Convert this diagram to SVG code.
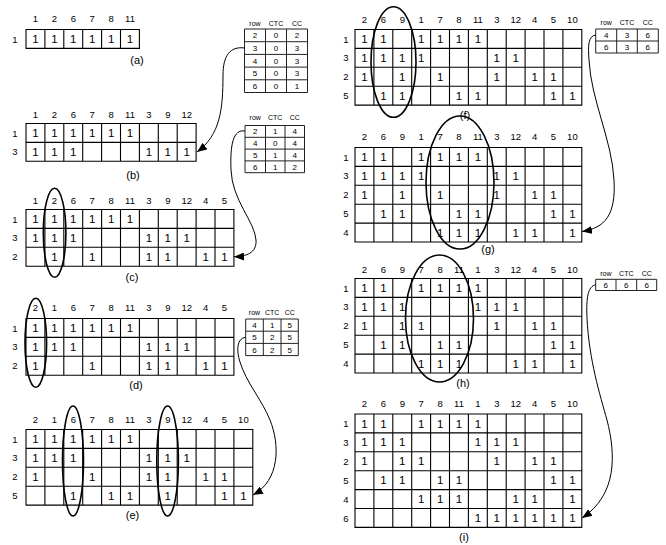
<svg xmlns="http://www.w3.org/2000/svg" width="666" height="545" viewBox="0 0 666 545">
<style>
text{font-family:"Liberation Sans",Arial,sans-serif;fill:#000;text-anchor:middle}
.g{fill:none;stroke:#000;stroke-width:1.1}
.tg{fill:none;stroke:#222;stroke-width:1}
.v{font-size:11.5px}
.h{font-size:9.5px}
.r{font-size:9.5px}
.lb{font-size:11px}
.th{font-size:7px}
.td{font-size:8px}
.el{fill:none;stroke:#000;stroke-width:1.6}
.cn{fill:none;stroke:#000;stroke-width:1}
</style>
<defs>
<marker id="ah" markerUnits="userSpaceOnUse" markerWidth="11" markerHeight="8" refX="10" refY="4" orient="auto">
<path d="M0,0 L10,4 L0,8 Z" fill="#000"/>
</marker>
</defs>

<g id="matrix-a">
<path class="g" d="M26 29.5H139.4V48.4H26Z M44.9 29.5V48.4 M63.8 29.5V48.4 M82.7 29.5V48.4 M101.6 29.5V48.4 M120.5 29.5V48.4"/>
<text class="h" x="35.5" y="22.4">1</text><text class="h" x="54.4" y="22.4">2</text><text class="h" x="73.3" y="22.4">6</text><text class="h" x="92.2" y="22.4">7</text><text class="h" x="111.1" y="22.4">8</text><text class="h" x="130" y="22.4">11</text>
<text class="r" x="15" y="42.5">1</text>
<text class="v" x="35.5" y="43">1</text><text class="v" x="54.4" y="43">1</text><text class="v" x="73.3" y="43">1</text><text class="v" x="92.2" y="43">1</text><text class="v" x="111.1" y="43">1</text><text class="v" x="130" y="43">1</text>
<text class="lb" x="137" y="64">(a)</text>
</g>

<g id="matrix-b">
<path class="g" d="M26 123.5H196.1V161.3H26Z M26 142.4H196.1 M44.9 123.5V161.3 M63.8 123.5V161.3 M82.7 123.5V161.3 M101.6 123.5V161.3 M120.5 123.5V161.3 M139.4 123.5V161.3 M158.3 123.5V161.3 M177.2 123.5V161.3"/>
<text class="h" x="35.5" y="118.4">1</text><text class="h" x="54.4" y="118.4">2</text><text class="h" x="73.3" y="118.4">6</text><text class="h" x="92.2" y="118.4">7</text><text class="h" x="111.1" y="118.4">8</text><text class="h" x="130" y="118.4">11</text><text class="h" x="148.9" y="118.4">3</text><text class="h" x="167.8" y="118.4">9</text><text class="h" x="186.7" y="118.4">12</text>
<text class="r" x="15" y="136.5">1</text><text class="r" x="15" y="155.4">3</text>
<text class="v" x="35.5" y="137">1</text><text class="v" x="54.4" y="137">1</text><text class="v" x="73.3" y="137">1</text><text class="v" x="92.2" y="137">1</text><text class="v" x="111.1" y="137">1</text><text class="v" x="130" y="137">1</text>
<text class="v" x="35.5" y="155.9">1</text><text class="v" x="54.4" y="155.9">1</text><text class="v" x="73.3" y="155.9">1</text><text class="v" x="148.9" y="155.9">1</text><text class="v" x="167.8" y="155.9">1</text><text class="v" x="186.7" y="155.9">1</text>
<text class="lb" x="133" y="179">(b)</text>
</g>

<g id="matrix-c">
<path class="g" d="M26 209.5H233.9V266.2H26Z M26 228.4H233.9 M26 247.3H233.9 M44.9 209.5V266.2 M63.8 209.5V266.2 M82.7 209.5V266.2 M101.6 209.5V266.2 M120.5 209.5V266.2 M139.4 209.5V266.2 M158.3 209.5V266.2 M177.2 209.5V266.2 M196.1 209.5V266.2 M215 209.5V266.2"/>
<text class="h" x="35.5" y="204">1</text><text class="h" x="54.4" y="204">2</text><text class="h" x="73.3" y="204">6</text><text class="h" x="92.2" y="204">7</text><text class="h" x="111.1" y="204">8</text><text class="h" x="130" y="204">11</text><text class="h" x="148.9" y="204">3</text><text class="h" x="167.8" y="204">9</text><text class="h" x="186.7" y="204">12</text><text class="h" x="205.6" y="204">4</text><text class="h" x="224.5" y="204">5</text>
<text class="r" x="15" y="222.5">1</text><text class="r" x="15" y="241.4">3</text><text class="r" x="15" y="260.3">2</text>
<text class="v" x="35.5" y="223">1</text><text class="v" x="54.4" y="223">1</text><text class="v" x="73.3" y="223">1</text><text class="v" x="92.2" y="223">1</text><text class="v" x="111.1" y="223">1</text><text class="v" x="130" y="223">1</text>
<text class="v" x="35.5" y="241.9">1</text><text class="v" x="54.4" y="241.9">1</text><text class="v" x="73.3" y="241.9">1</text><text class="v" x="148.9" y="241.9">1</text><text class="v" x="167.8" y="241.9">1</text><text class="v" x="186.7" y="241.9">1</text>
<text class="v" x="54.4" y="260.8">1</text><text class="v" x="92.2" y="260.8">1</text><text class="v" x="148.9" y="260.8">1</text><text class="v" x="167.8" y="260.8">1</text><text class="v" x="205.6" y="260.8">1</text><text class="v" x="224.5" y="260.8">1</text>
<ellipse class="el" cx="54.6" cy="232.8" rx="11.3" ry="44.5"/>
<text class="lb" x="132" y="281">(c)</text>
</g>

<g id="matrix-d">
<path class="g" d="M26 318.5H233.9V375.2H26Z M26 337.4H233.9 M26 356.3H233.9 M44.9 318.5V375.2 M63.8 318.5V375.2 M82.7 318.5V375.2 M101.6 318.5V375.2 M120.5 318.5V375.2 M139.4 318.5V375.2 M158.3 318.5V375.2 M177.2 318.5V375.2 M196.1 318.5V375.2 M215 318.5V375.2"/>
<text class="h" x="35.5" y="311.4">2</text><text class="h" x="54.4" y="311.4">1</text><text class="h" x="73.3" y="311.4">6</text><text class="h" x="92.2" y="311.4">7</text><text class="h" x="111.1" y="311.4">8</text><text class="h" x="130" y="311.4">11</text><text class="h" x="148.9" y="311.4">3</text><text class="h" x="167.8" y="311.4">9</text><text class="h" x="186.7" y="311.4">12</text><text class="h" x="205.6" y="311.4">4</text><text class="h" x="224.5" y="311.4">5</text>
<text class="r" x="15" y="331.5">1</text><text class="r" x="15" y="350.4">3</text><text class="r" x="15" y="369.3">2</text>
<text class="v" x="35.5" y="332">1</text><text class="v" x="54.4" y="332">1</text><text class="v" x="73.3" y="332">1</text><text class="v" x="92.2" y="332">1</text><text class="v" x="111.1" y="332">1</text><text class="v" x="130" y="332">1</text>
<text class="v" x="35.5" y="350.9">1</text><text class="v" x="54.4" y="350.9">1</text><text class="v" x="73.3" y="350.9">1</text><text class="v" x="148.9" y="350.9">1</text><text class="v" x="167.8" y="350.9">1</text><text class="v" x="186.7" y="350.9">1</text>
<text class="v" x="35.5" y="369.8">1</text><text class="v" x="92.2" y="369.8">1</text><text class="v" x="148.9" y="369.8">1</text><text class="v" x="167.8" y="369.8">1</text><text class="v" x="205.6" y="369.8">1</text><text class="v" x="224.5" y="369.8">1</text>
<ellipse class="el" cx="35.8" cy="342.8" rx="10.8" ry="44.5"/>
<text class="lb" x="136" y="389">(d)</text>
</g>

<g id="matrix-e">
<path class="g" d="M26 429.5H252.8V505.1H26Z M26 448.4H252.8 M26 467.3H252.8 M26 486.2H252.8 M44.9 429.5V505.1 M63.8 429.5V505.1 M82.7 429.5V505.1 M101.6 429.5V505.1 M120.5 429.5V505.1 M139.4 429.5V505.1 M158.3 429.5V505.1 M177.2 429.5V505.1 M196.1 429.5V505.1 M215 429.5V505.1 M233.9 429.5V505.1"/>
<text class="h" x="35.5" y="423.4">2</text><text class="h" x="54.4" y="423.4">1</text><text class="h" x="73.3" y="423.4">6</text><text class="h" x="92.2" y="423.4">7</text><text class="h" x="111.1" y="423.4">8</text><text class="h" x="130" y="423.4">11</text><text class="h" x="148.9" y="423.4">3</text><text class="h" x="167.8" y="423.4">9</text><text class="h" x="186.7" y="423.4">12</text><text class="h" x="205.6" y="423.4">4</text><text class="h" x="224.5" y="423.4">5</text><text class="h" x="243.4" y="423.4">10</text>
<text class="r" x="15" y="442.5">1</text><text class="r" x="15" y="461.4">3</text><text class="r" x="15" y="480.3">2</text><text class="r" x="15" y="499.2">5</text>
<text class="v" x="35.5" y="443">1</text><text class="v" x="54.4" y="443">1</text><text class="v" x="73.3" y="443">1</text><text class="v" x="92.2" y="443">1</text><text class="v" x="111.1" y="443">1</text><text class="v" x="130" y="443">1</text>
<text class="v" x="35.5" y="461.9">1</text><text class="v" x="54.4" y="461.9">1</text><text class="v" x="73.3" y="461.9">1</text><text class="v" x="148.9" y="461.9">1</text><text class="v" x="167.8" y="461.9">1</text><text class="v" x="186.7" y="461.9">1</text>
<text class="v" x="35.5" y="480.8">1</text><text class="v" x="92.2" y="480.8">1</text><text class="v" x="148.9" y="480.8">1</text><text class="v" x="167.8" y="480.8">1</text><text class="v" x="205.6" y="480.8">1</text><text class="v" x="224.5" y="480.8">1</text>
<text class="v" x="73.3" y="499.7">1</text><text class="v" x="111.1" y="499.7">1</text><text class="v" x="130" y="499.7">1</text><text class="v" x="167.8" y="499.7">1</text><text class="v" x="224.5" y="499.7">1</text><text class="v" x="243.4" y="499.7">1</text>
<ellipse class="el" cx="73" cy="461" rx="10.5" ry="55"/>
<ellipse class="el" cx="167.6" cy="461" rx="10.8" ry="55"/>
<text class="lb" x="132.5" y="519">(e)</text>
</g>

<g id="matrix-f">
<path class="g" d="M355 29.5H581.8V105.1H355Z M355 48.4H581.8 M355 67.3H581.8 M355 86.2H581.8 M373.9 29.5V105.1 M392.8 29.5V105.1 M411.7 29.5V105.1 M430.6 29.5V105.1 M449.5 29.5V105.1 M468.4 29.5V105.1 M487.3 29.5V105.1 M506.2 29.5V105.1 M525.1 29.5V105.1 M544 29.5V105.1 M562.9 29.5V105.1"/>
<text class="h" x="364.5" y="23.4">2</text><text class="h" x="383.4" y="23.4">6</text><text class="h" x="402.3" y="23.4">9</text><text class="h" x="421.2" y="23.4">1</text><text class="h" x="440.1" y="23.4">7</text><text class="h" x="459" y="23.4">8</text><text class="h" x="477.9" y="23.4">11</text><text class="h" x="496.8" y="23.4">3</text><text class="h" x="515.7" y="23.4">12</text><text class="h" x="534.6" y="23.4">4</text><text class="h" x="553.5" y="23.4">5</text><text class="h" x="572.4" y="23.4">10</text>
<text class="r" x="346" y="42.5">1</text><text class="r" x="346" y="61.4">3</text><text class="r" x="346" y="80.3">2</text><text class="r" x="346" y="99.2">5</text>
<text class="v" x="364.5" y="43">1</text><text class="v" x="383.4" y="43">1</text><text class="v" x="421.2" y="43">1</text><text class="v" x="440.1" y="43">1</text><text class="v" x="459" y="43">1</text><text class="v" x="477.9" y="43">1</text>
<text class="v" x="364.5" y="61.9">1</text><text class="v" x="383.4" y="61.9">1</text><text class="v" x="402.3" y="61.9">1</text><text class="v" x="421.2" y="61.9">1</text><text class="v" x="496.8" y="61.9">1</text><text class="v" x="515.7" y="61.9">1</text>
<text class="v" x="364.5" y="80.8">1</text><text class="v" x="402.3" y="80.8">1</text><text class="v" x="440.1" y="80.8">1</text><text class="v" x="496.8" y="80.8">1</text><text class="v" x="534.6" y="80.8">1</text><text class="v" x="553.5" y="80.8">1</text>
<text class="v" x="383.4" y="99.7">1</text><text class="v" x="402.3" y="99.7">1</text><text class="v" x="459" y="99.7">1</text><text class="v" x="477.9" y="99.7">1</text><text class="v" x="553.5" y="99.7">1</text><text class="v" x="572.4" y="99.7">1</text>
<ellipse class="el" cx="393.5" cy="62" rx="22.5" ry="55.3"/>
<text class="lb" x="465" y="119">(f)</text>
</g>

<g id="matrix-g">
<path class="g" d="M355 147.5H581.8V242H355Z M355 166.4H581.8 M355 185.3H581.8 M355 204.2H581.8 M355 223.1H581.8 M373.9 147.5V242 M392.8 147.5V242 M411.7 147.5V242 M430.6 147.5V242 M449.5 147.5V242 M468.4 147.5V242 M487.3 147.5V242 M506.2 147.5V242 M525.1 147.5V242 M544 147.5V242 M562.9 147.5V242"/>
<text class="h" x="364.5" y="140">2</text><text class="h" x="383.4" y="140">6</text><text class="h" x="402.3" y="140">9</text><text class="h" x="421.2" y="140">1</text><text class="h" x="440.1" y="140">7</text><text class="h" x="459" y="140">8</text><text class="h" x="477.9" y="140">11</text><text class="h" x="496.8" y="140">3</text><text class="h" x="515.7" y="140">12</text><text class="h" x="534.6" y="140">4</text><text class="h" x="553.5" y="140">5</text><text class="h" x="572.4" y="140">10</text>
<text class="r" x="346" y="160.5">1</text><text class="r" x="346" y="179.4">3</text><text class="r" x="346" y="198.3">2</text><text class="r" x="346" y="217.2">5</text><text class="r" x="346" y="236.1">4</text>
<text class="v" x="364.5" y="161">1</text><text class="v" x="383.4" y="161">1</text><text class="v" x="421.2" y="161">1</text><text class="v" x="440.1" y="161">1</text><text class="v" x="459" y="161">1</text><text class="v" x="477.9" y="161">1</text>
<text class="v" x="364.5" y="179.9">1</text><text class="v" x="383.4" y="179.9">1</text><text class="v" x="402.3" y="179.9">1</text><text class="v" x="421.2" y="179.9">1</text><text class="v" x="496.8" y="179.9">1</text><text class="v" x="515.7" y="179.9">1</text>
<text class="v" x="364.5" y="198.8">1</text><text class="v" x="402.3" y="198.8">1</text><text class="v" x="440.1" y="198.8">1</text><text class="v" x="496.8" y="198.8">1</text><text class="v" x="534.6" y="198.8">1</text><text class="v" x="553.5" y="198.8">1</text>
<text class="v" x="383.4" y="217.7">1</text><text class="v" x="402.3" y="217.7">1</text><text class="v" x="459" y="217.7">1</text><text class="v" x="477.9" y="217.7">1</text><text class="v" x="553.5" y="217.7">1</text><text class="v" x="572.4" y="217.7">1</text>
<text class="v" x="440.1" y="236.6">1</text><text class="v" x="459" y="236.6">1</text><text class="v" x="477.9" y="236.6">1</text><text class="v" x="515.7" y="236.6">1</text><text class="v" x="534.6" y="236.6">1</text><text class="v" x="572.4" y="236.6">1</text>
<ellipse class="el" cx="460" cy="182.5" rx="34" ry="66.5"/>
<text class="lb" x="488" y="253">(g)</text>
</g>

<g id="matrix-h">
<path class="g" d="M355 278.5H581.8V373H355Z M355 297.4H581.8 M355 316.3H581.8 M355 335.2H581.8 M355 354.1H581.8 M373.9 278.5V373 M392.8 278.5V373 M411.7 278.5V373 M430.6 278.5V373 M449.5 278.5V373 M468.4 278.5V373 M487.3 278.5V373 M506.2 278.5V373 M525.1 278.5V373 M544 278.5V373 M562.9 278.5V373"/>
<text class="h" x="364.5" y="272.7">2</text><text class="h" x="383.4" y="272.7">6</text><text class="h" x="402.3" y="272.7">9</text><text class="h" x="421.2" y="272.7">7</text><text class="h" x="440.1" y="272.7">8</text><text class="h" x="459" y="272.7">11</text><text class="h" x="477.9" y="272.7">1</text><text class="h" x="496.8" y="272.7">3</text><text class="h" x="515.7" y="272.7">12</text><text class="h" x="534.6" y="272.7">4</text><text class="h" x="553.5" y="272.7">5</text><text class="h" x="572.4" y="272.7">10</text>
<text class="r" x="346" y="291.5">1</text><text class="r" x="346" y="310.4">3</text><text class="r" x="346" y="329.3">2</text><text class="r" x="346" y="348.2">5</text><text class="r" x="346" y="367.1">4</text>
<text class="v" x="364.5" y="292">1</text><text class="v" x="383.4" y="292">1</text><text class="v" x="421.2" y="292">1</text><text class="v" x="440.1" y="292">1</text><text class="v" x="459" y="292">1</text><text class="v" x="477.9" y="292">1</text>
<text class="v" x="364.5" y="310.9">1</text><text class="v" x="383.4" y="310.9">1</text><text class="v" x="402.3" y="310.9">1</text><text class="v" x="477.9" y="310.9">1</text><text class="v" x="496.8" y="310.9">1</text><text class="v" x="515.7" y="310.9">1</text>
<text class="v" x="364.5" y="329.8">1</text><text class="v" x="402.3" y="329.8">1</text><text class="v" x="421.2" y="329.8">1</text><text class="v" x="496.8" y="329.8">1</text><text class="v" x="534.6" y="329.8">1</text><text class="v" x="553.5" y="329.8">1</text>
<text class="v" x="383.4" y="348.7">1</text><text class="v" x="402.3" y="348.7">1</text><text class="v" x="440.1" y="348.7">1</text><text class="v" x="459" y="348.7">1</text><text class="v" x="553.5" y="348.7">1</text><text class="v" x="572.4" y="348.7">1</text>
<text class="v" x="421.2" y="367.6">1</text><text class="v" x="440.1" y="367.6">1</text><text class="v" x="459" y="367.6">1</text><text class="v" x="515.7" y="367.6">1</text><text class="v" x="534.6" y="367.6">1</text><text class="v" x="572.4" y="367.6">1</text>
<ellipse class="el" cx="439.5" cy="318.5" rx="34" ry="63.5"/>
<text class="lb" x="463" y="387">(h)</text>
</g>

<g id="matrix-i">
<path class="g" d="M355 414H581.8V527.4H355Z M355 432.9H581.8 M355 451.8H581.8 M355 470.7H581.8 M355 489.6H581.8 M355 508.5H581.8 M373.9 414V527.4 M392.8 414V527.4 M411.7 414V527.4 M430.6 414V527.4 M449.5 414V527.4 M468.4 414V527.4 M487.3 414V527.4 M506.2 414V527.4 M525.1 414V527.4 M544 414V527.4 M562.9 414V527.4"/>
<text class="h" x="364.5" y="407.4">2</text><text class="h" x="383.4" y="407.4">6</text><text class="h" x="402.3" y="407.4">9</text><text class="h" x="421.2" y="407.4">7</text><text class="h" x="440.1" y="407.4">8</text><text class="h" x="459" y="407.4">11</text><text class="h" x="477.9" y="407.4">1</text><text class="h" x="496.8" y="407.4">3</text><text class="h" x="515.7" y="407.4">12</text><text class="h" x="534.6" y="407.4">4</text><text class="h" x="553.5" y="407.4">5</text><text class="h" x="572.4" y="407.4">10</text>
<text class="r" x="346" y="427">1</text><text class="r" x="346" y="445.9">3</text><text class="r" x="346" y="464.8">2</text><text class="r" x="346" y="483.7">5</text><text class="r" x="346" y="502.6">4</text><text class="r" x="346" y="521.5">6</text>
<text class="v" x="364.5" y="427.5">1</text><text class="v" x="383.4" y="427.5">1</text><text class="v" x="421.2" y="427.5">1</text><text class="v" x="440.1" y="427.5">1</text><text class="v" x="459" y="427.5">1</text><text class="v" x="477.9" y="427.5">1</text>
<text class="v" x="364.5" y="446.4">1</text><text class="v" x="383.4" y="446.4">1</text><text class="v" x="402.3" y="446.4">1</text><text class="v" x="477.9" y="446.4">1</text><text class="v" x="496.8" y="446.4">1</text><text class="v" x="515.7" y="446.4">1</text>
<text class="v" x="364.5" y="465.3">1</text><text class="v" x="402.3" y="465.3">1</text><text class="v" x="421.2" y="465.3">1</text><text class="v" x="496.8" y="465.3">1</text><text class="v" x="534.6" y="465.3">1</text><text class="v" x="553.5" y="465.3">1</text>
<text class="v" x="383.4" y="484.2">1</text><text class="v" x="402.3" y="484.2">1</text><text class="v" x="440.1" y="484.2">1</text><text class="v" x="459" y="484.2">1</text><text class="v" x="553.5" y="484.2">1</text><text class="v" x="572.4" y="484.2">1</text>
<text class="v" x="421.2" y="503.1">1</text><text class="v" x="440.1" y="503.1">1</text><text class="v" x="459" y="503.1">1</text><text class="v" x="515.7" y="503.1">1</text><text class="v" x="534.6" y="503.1">1</text><text class="v" x="572.4" y="503.1">1</text>
<text class="v" x="477.9" y="522">1</text><text class="v" x="496.8" y="522">1</text><text class="v" x="515.7" y="522">1</text><text class="v" x="534.6" y="522">1</text><text class="v" x="553.5" y="522">1</text><text class="v" x="572.4" y="522">1</text>
<text class="lb" x="464" y="541">(i)</text>
</g>

<g id="table-1">
<path class="tg" d="M244.5 29H307.5V92.5H244.5Z M244.5 41.7H307.5 M244.5 54.4H307.5 M244.5 67.1H307.5 M244.5 79.8H307.5 M265.5 29V92.5 M286.5 29V92.5"/>
<text class="th" x="255" y="25.8">row</text><text class="th" x="276" y="25.8">CTC</text><text class="th" x="297" y="25.8">CC</text>
<text class="td" x="255" y="38.3">2</text><text class="td" x="276" y="38.3">0</text><text class="td" x="297" y="38.3">2</text>
<text class="td" x="255" y="51">3</text><text class="td" x="276" y="51">0</text><text class="td" x="297" y="51">3</text>
<text class="td" x="255" y="63.7">4</text><text class="td" x="276" y="63.7">0</text><text class="td" x="297" y="63.7">3</text>
<text class="td" x="255" y="76.4">5</text><text class="td" x="276" y="76.4">0</text><text class="td" x="297" y="76.4">3</text>
<text class="td" x="255" y="89.1">6</text><text class="td" x="276" y="89.1">0</text><text class="td" x="297" y="89.1">1</text>
</g>

<g id="table-2">
<path class="tg" d="M245 125.5H304.5V172.7H245Z M245 137.3H304.5 M245 149.1H304.5 M245 160.9H304.5 M265.5 125.5V172.7 M285 125.5V172.7"/>
<text class="th" x="255.2" y="119.5">row</text><text class="th" x="275.2" y="119.5">CTC</text><text class="th" x="294.7" y="119.5">CC</text>
<text class="td" x="255.2" y="134.3">2</text><text class="td" x="275.2" y="134.3">1</text><text class="td" x="294.7" y="134.3">4</text>
<text class="td" x="255.2" y="146.1">4</text><text class="td" x="275.2" y="146.1">0</text><text class="td" x="294.7" y="146.1">4</text>
<text class="td" x="255.2" y="157.9">5</text><text class="td" x="275.2" y="157.9">1</text><text class="td" x="294.7" y="157.9">4</text>
<text class="td" x="255.2" y="169.7">6</text><text class="td" x="275.2" y="169.7">1</text><text class="td" x="294.7" y="169.7">2</text>
</g>

<g id="table-3">
<path class="tg" d="M245.7 319H298.3V355.6H245.7Z M245.7 331.2H298.3 M245.7 343.4H298.3 M263.3 319V355.6 M281 319V355.6"/>
<text class="th" x="254.5" y="315.2">row</text><text class="th" x="272.2" y="315.2">CTC</text><text class="th" x="289.7" y="315.2">CC</text>
<text class="td" x="254.5" y="328.1">4</text><text class="td" x="272.2" y="328.1">1</text><text class="td" x="289.7" y="328.1">5</text>
<text class="td" x="254.5" y="340.3">5</text><text class="td" x="272.2" y="340.3">2</text><text class="td" x="289.7" y="340.3">5</text>
<text class="td" x="254.5" y="352.5">6</text><text class="td" x="272.2" y="352.5">2</text><text class="td" x="289.7" y="352.5">5</text>
</g>

<g id="table-4">
<path class="tg" d="M595.7 29H658.3V53H595.7Z M595.7 41H658.3 M616.7 29V53 M637.3 29V53"/>
<text class="th" x="606.2" y="25.3">row</text><text class="th" x="627" y="25.3">CTC</text><text class="th" x="647.8" y="25.3">CC</text>
<text class="td" x="606.2" y="38">4</text><text class="td" x="627" y="38">3</text><text class="td" x="647.8" y="38">6</text>
<text class="td" x="606.2" y="50">6</text><text class="td" x="627" y="50">3</text><text class="td" x="647.8" y="50">6</text>
</g>

<g id="table-5">
<path class="tg" d="M595.7 279.3H656.7V290.5H595.7Z M616 279.3V290.5 M636.7 279.3V290.5"/>
<text class="th" x="605.8" y="275.6">row</text><text class="th" x="626.3" y="275.6">CTC</text><text class="th" x="646.7" y="275.6">CC</text>
<text class="td" x="605.8" y="287.8">6</text><text class="td" x="626.3" y="287.8">6</text><text class="td" x="646.7" y="287.8">6</text>
</g>

<g id="connectors">
<path class="cn" marker-end="url(#ah)" d="M244.5,48 C230,46 223,56 223,75 C223,110 220,135 197,152"/>
<path class="cn" marker-end="url(#ah)" d="M245,131 C233,129 230,145 231,170 C232,200 255,222 256,240 C257,253 246,256.5 234,256.7"/>
<path class="cn" marker-end="url(#ah)" d="M245.7,337.3 C237,338 236,350 240,362 C246,382 262,400 270,420 C280,445 280,480 253,495"/>
<path class="cn" marker-end="url(#ah)" d="M595.7,35 C588,36 588,46 589,60 C591,100 612,140 614,180 C616,215 605,228 582,231.5"/>
<path class="cn" marker-end="url(#ah)" d="M595.7,284.8 C588,286 586,298 587,318 C589,360 600,395 607,420 C616,455 617,495 582,518"/>
</g>
</svg>
